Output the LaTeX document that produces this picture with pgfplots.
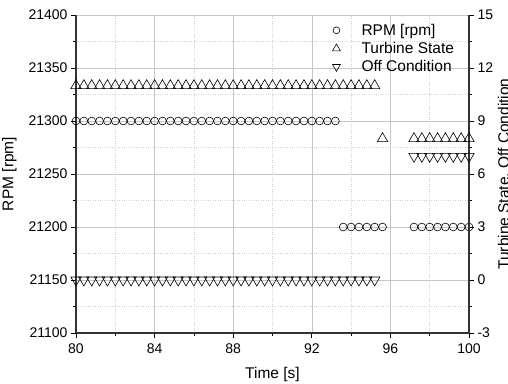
\documentclass[border=0pt]{standalone}
\usepackage{fontspec}
\setmainfont{Liberation Sans}
\usepackage{pgfplots}
\usepackage{pgfplotstable}
\pgfplotsset{compat=1.18}
\pgfplotstableread{
t rpm ts off
80.0 21300 11 0
80.4 21300 11 0
80.8 21300 11 0
81.2 21300 11 0
81.6 21300 11 0
82.0 21300 11 0
82.4 21300 11 0
82.8 21300 11 0
83.2 21300 11 0
83.6 21300 11 0
84.0 21300 11 0
84.4 21300 11 0
84.8 21300 11 0
85.2 21300 11 0
85.6 21300 11 0
86.0 21300 11 0
86.4 21300 11 0
86.8 21300 11 0
87.2 21300 11 0
87.6 21300 11 0
88.0 21300 11 0
88.4 21300 11 0
88.8 21300 11 0
89.2 21300 11 0
89.6 21300 11 0
90.0 21300 11 0
90.4 21300 11 0
90.8 21300 11 0
91.2 21300 11 0
91.6 21300 11 0
92.0 21300 11 0
92.4 21300 11 0
92.8 21300 11 0
93.2 21300 11 0
93.6 21200 11 0
94.0 21200 11 0
94.4 21200 11 0
94.8 21200 11 0
95.2 21200 11 0
95.6 21200 8 nan
97.2 21200 8 7
97.6 21200 8 7
98.0 21200 8 7
98.4 21200 8 7
98.8 21200 8 7
99.2 21200 8 7
99.6 21200 8 7
100.0 21200 8 7
}\data
\begin{document}
\begin{tikzpicture}
\useasboundingbox (-76pt,-50pt) rectangle (432pt,333pt);
\pgfplotsset{common/.style={
  scale only axis, width=393pt, height=318pt,
  xmin=80, xmax=100, at={(0pt,0pt)}, anchor=south west,
  tick align=outside, major tick length=5pt, minor tick length=3pt,
  tick style={black, line width=0.8pt},
  axis line style={line width=1.1pt, black!80},
  /pgf/number format/assume math mode=true,
  /pgf/number format/1000 sep={},
  ticklabel style={font=\fontsize{14}{16}\selectfont},
  label style={font=\fontsize{15.5}{18}\selectfont},
}}
\begin{axis}[common,
  axis x line*=bottom, axis y line*=left,
  ymin=21100, ymax=21400, ytick={21100,21150,...,21400},
  xtick={80,84,...,100},
  minor x tick num=1, minor y tick num=1,
  scaled y ticks=false,
  grid=both,
  major grid style={gray!45, line width=0.6pt},
  minor grid style={gray!35, dotted, line width=0.5pt},
  xticklabel style={yshift=-2pt},
  xlabel={Time [s]}, ylabel={RPM [rpm]},
  xlabel style={yshift=-7pt},
  ylabel style={yshift=5pt},
]
\addplot[black, only marks, mark=o, mark size=3.9pt, line width=0.6pt] table[x=t,y=rpm]{\data};
\end{axis}
\begin{axis}[common,
  axis x line=none, axis y line*=right,
  ymin=-3, ymax=15, ytick={-3,0,...,15},
  minor y tick num=1,
  ylabel={Turbine State, Off Condition},
  ylabel style={yshift=2pt},
  legend style={draw=none, fill=none, at={(rel axis cs:0.975,0.985)}, anchor=north east,
    font=\fontsize{15.5}{17}\selectfont, row sep=1.5pt},
  legend cell align=left,
  legend image code/.code={\path (0cm,0cm) (1.1cm,0cm);
    \draw[mark repeat=2,mark phase=2,#1] plot coordinates {(0cm,0cm) (0.3cm,0cm) (0.6cm,0cm)};},
]
\addlegendimage{black, only marks, mark=o, mark size=3.4pt, line width=0.6pt}
\addlegendentry{RPM [rpm]}
\addplot[black, only marks, mark=triangle, mark size=6pt, line width=0.6pt, legend image post style={mark size=4.5pt}] table[x=t,y=ts]{\data};
\addlegendentry{Turbine State}
\addplot[black, only marks, mark=triangle, mark size=6pt, line width=0.6pt, mark options={rotate=180}, legend image post style={mark size=4.5pt}] table[x=t,y=off]{\data};
\addlegendentry{Off Condition}
\end{axis}
\end{tikzpicture}
\end{document}
